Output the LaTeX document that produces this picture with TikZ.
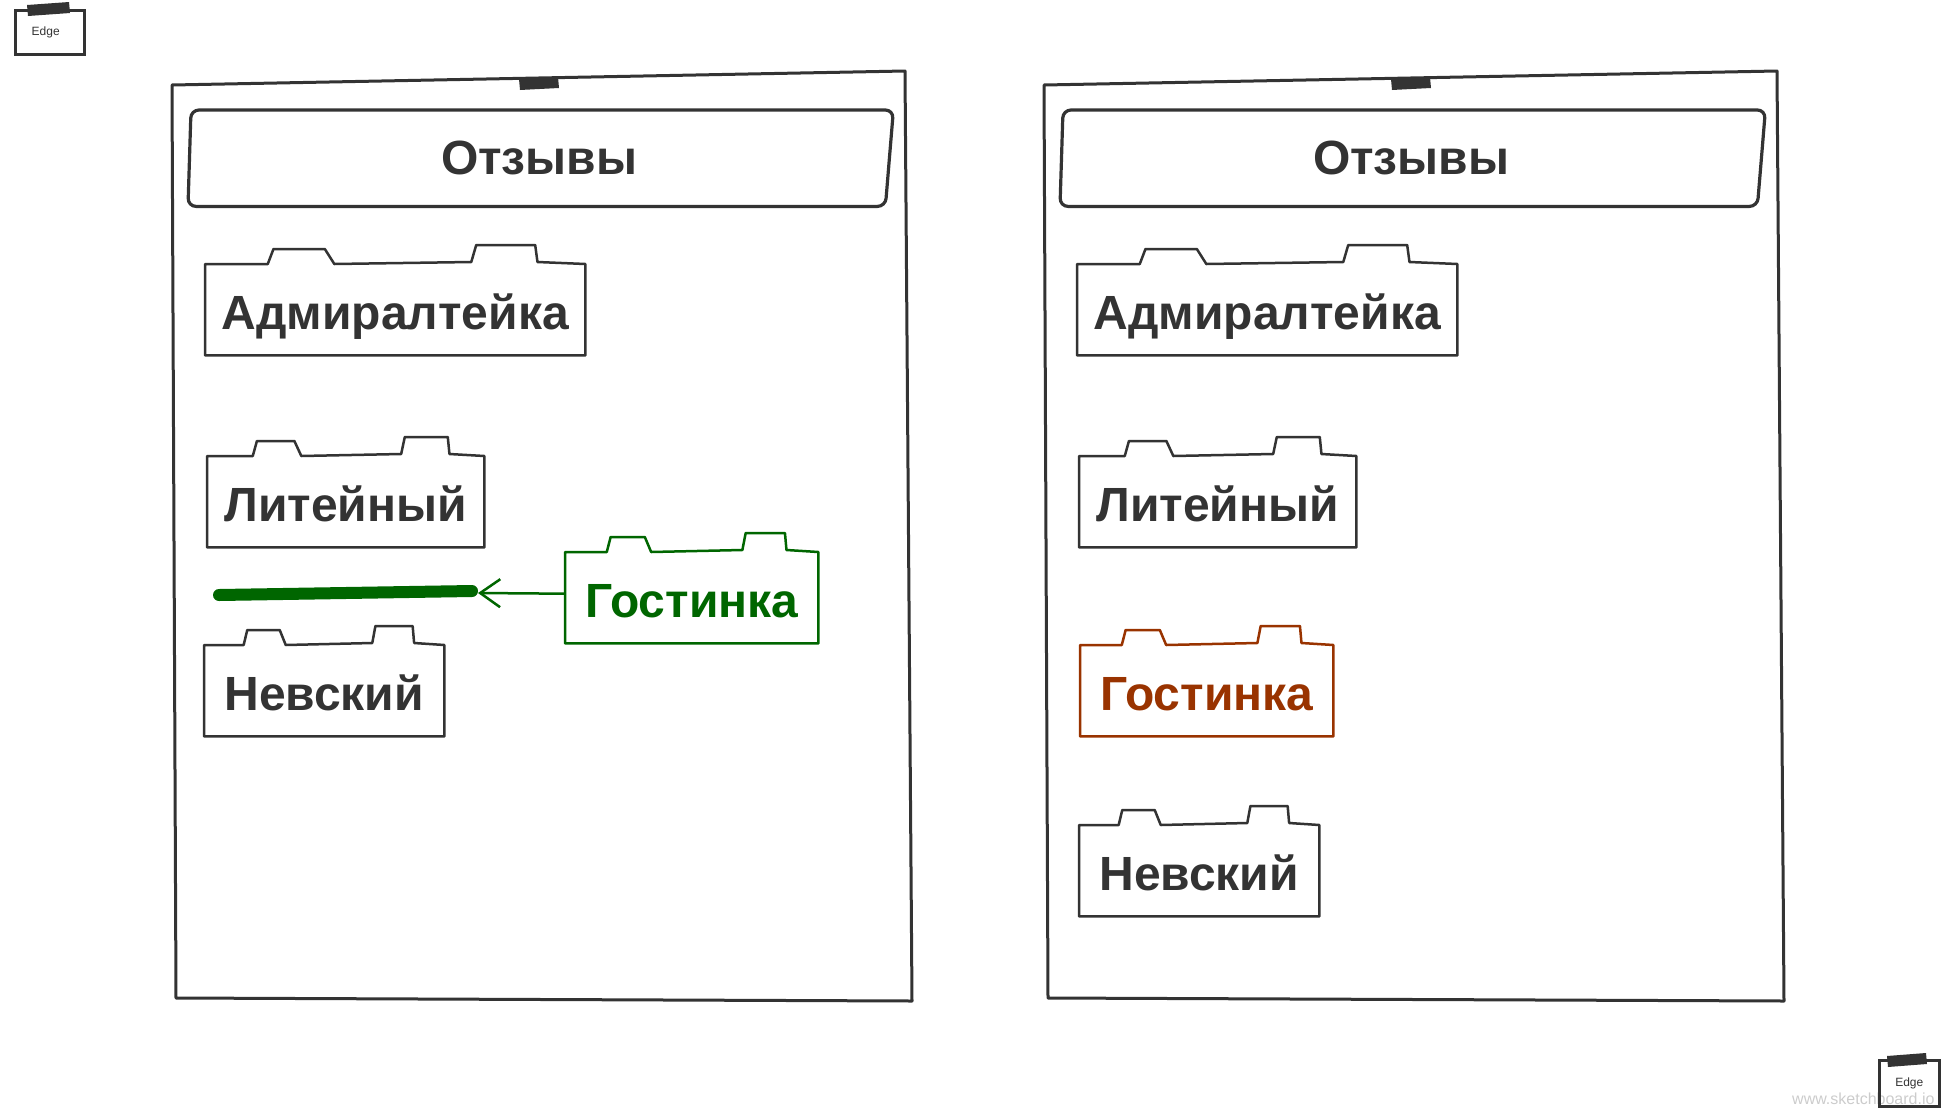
\documentclass[tikz,border=0pt]{standalone}
\usepackage{fontspec}
\setmainfont{Liberation Sans}
\usetikzlibrary{calc,arrows.meta}
\definecolor{Ink}{HTML}{333333}
\definecolor{Leaf}{HTML}{006600}
\definecolor{Rust}{HTML}{993300}
\definecolor{Mark}{HTML}{CCCCCC}

\begin{document}
\begin{tikzpicture}[
  x=1bp, y=-1bp,
  frame/.style={draw=Ink, line width=3bp, line join=round},
  tape/.style={fill=Ink},
  hdr/.style={anchor=north west, minimum width=702bp, minimum height=96bp, inner sep=0pt,
    text=Ink, text height=36bp, text depth=4bp, font=\fontsize{48bp}{56bp}\selectfont\bfseries},
  hdrline/.style={draw=Ink, line width=3.2bp, rounded corners=8bp},
  pkg/.style={anchor=north west, minimum width=#1, minimum height=91bp, inner sep=0pt,
    text=Ink, text height=44bp, text depth=4bp, font=\fontsize{48bp}{56bp}\selectfont\bfseries},
  pkgline/.style={line width=2.5bp, line join=round},
  edgebox/.style={draw=Ink, line width=2.5bp, anchor=north west, inner sep=0pt,
    text=Ink, font=\fontsize{12bp}{14bp}\selectfont},
  bar/.style={draw=Leaf, line width=12bp, line cap=round},
  arr/.style={draw=Leaf, line width=2.5bp, -{Straight Barb[length=20bp,width=28bp]}}
]
  \useasboundingbox (0,0) rectangle (1960,1119);

  \draw[frame] (172,85) -- (905,71) -- (912,1001) -- (176,998) -- cycle;
  \fill[tape] (519,79) -- (558,77) -- (559,88) -- (520,90) -- cycle;
  \draw[frame] (1044,85) -- (1777,71) -- (1784,1001) -- (1048,998) -- cycle;
  \fill[tape] (1391,79) -- (1430,77) -- (1431,88) -- (1392,90) -- cycle;

  \node[hdr] (hdrL) at (188,110) {Отзывы};
  \node[pkg=380bp] (admL) at (205,264) {Адмиралтейка};
  \node[pkg=277bp] (litL) at (207,456) {Литейный};
  \node[pkg=240bp] (nevL) at (204,645) {Невский};
  \node[pkg=253bp, text=Leaf] (gosL) at (565,552) {Гостинка};

  \node[hdr] (hdrR) at (1060,110) {Отзывы};
  \node[pkg=380bp] (admR) at (1077,264) {Адмиралтейка};
  \node[pkg=277bp] (litR) at (1079,456) {Литейный};
  \node[pkg=253bp, text=Rust] (gosR) at (1080,645) {Гостинка};
  \node[pkg=240bp] (nevR) at (1079,825) {Невский};

  \foreach \h in {hdrL, hdrR}{
    \draw[hdrline] ($(\h.north west)+(3,0)$) -- ($(\h.north east)+(3,0)$)
      -- ($(\h.south east)+(-5,0)$) -- (\h.south west) -- cycle;
  }

  \foreach \n/\c in {admL/Ink, litL/Ink, nevL/Ink, gosL/Leaf, admR/Ink, litR/Ink, gosR/Rust, nevR/Ink}{
    \draw[pkgline, draw=\c] (\n.north west)
      -- ($(\n.north west)!0.165!(\n.north east)$)
      -- ($(\n.north west)!0.18!(\n.north east)+(0,-15)$)
      -- ($(\n.north west)!0.315!(\n.north east)+(0,-15)$)
      -- ($(\n.north west)!0.34!(\n.north east)$)
      -- ($(\n.north west)!0.70!(\n.north east)+(0,-2)$)
      -- ($(\n.north west)!0.713!(\n.north east)+(0,-19)$)
      -- ($(\n.north west)!0.868!(\n.north east)+(0,-19)$)
      -- ($(\n.north west)!0.874!(\n.north east)+(0,-2)$)
      -- (\n.north east) -- (\n.south east) -- (\n.south west) -- cycle;
  }

  \coordinate (barA) at (219,595);
  \coordinate (barB) at (472,591);
  \coordinate (tip) at (478,593);
  \draw[bar] (barA) -- (barB);
  \draw[arr] ([yshift=4bp]gosL.west) -- (tip);

  \node[anchor=east, text=Mark, font=\fontsize{16bp}{18bp}\selectfont] (mark) at (1938,1099) {www.sketchboard.io};

  \node[edgebox, minimum width=69bp, minimum height=44bp] (edgeA) at (14,9) {Edge\hspace*{8bp}};
  \fill[tape] (27,5) -- (69,2) -- (70,13) -- (28,16) -- cycle;
  \node[edgebox, minimum width=60bp, minimum height=46bp] (edgeB) at (1878,1059) {Edge};
  \fill[tape] (1887,1056) -- (1926,1053) -- (1927,1064) -- (1888,1067) -- cycle;
\end{tikzpicture}
\end{document}
